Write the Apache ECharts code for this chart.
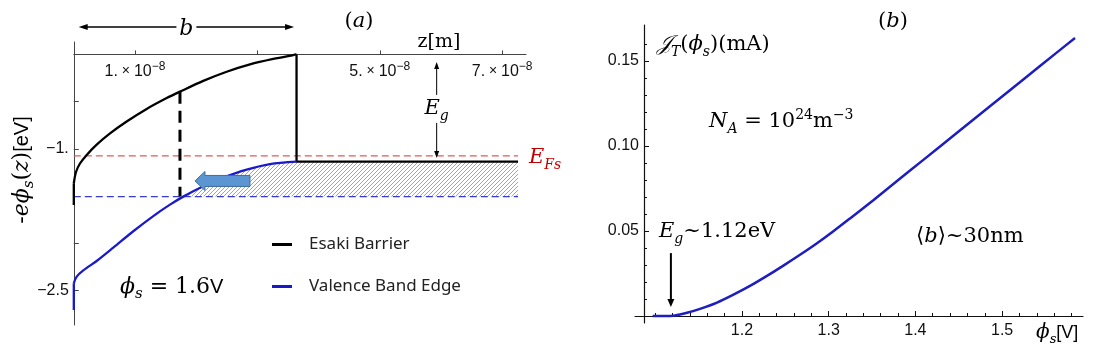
<!DOCTYPE html>
<html>
<head>
<meta charset="utf-8">
<script src="https://cdn.jsdelivr.net/npm/echarts@6/dist/echarts.min.js"></script>
<style>
html, body { margin: 0; padding: 0; background: #fff; }
#chart { width: 1099px; height: 351px; }
</style>
</head>
<body>
<div id="chart"></div>
<script>
// panel (a): z in nm, energies in eV
var zBarrier = [0, 0, 0.36, 1.01, 2.11, 3.74, 5.92, 8.64, 11.91, 15.18, 17.35, 21.16, 24.98, 28.79, 32.6, 35.87, 36.4, 36.4, 72.6];
var eBarrier = [-1.594, -1.364, -1.245, -1.155, -1.064, -0.955, -0.836, -0.710, -0.577, -0.462, -0.394, -0.280, -0.183, -0.105, -0.047, -0.006, 0, -1.136, -1.136];
var zValence = [0, 0, 0.47, 1.55, 3.74, 6.45, 9.72, 12.99, 15.72, 17.89, 21.16, 24.43, 28.25, 32.06, 36.4];
var eValence = [-2.707, -2.424, -2.354, -2.288, -2.188, -2.047, -1.873, -1.712, -1.591, -1.506, -1.396, -1.305, -1.220, -1.161, -1.136];
var zEnd = 72.6;
var fermiLevel = -1.075;
var tunnelLevel = -1.506;
var zDashed = 17.35;
var eDashTop = -0.394;
var zTicks = [10, 30, 50, 70];
var zLabels = [10, 50, 70];
var eTicks = [-0.5, -1, -1.5, -2, -2.5];
var eLabels = [-1, -2.5];

// panel (b): tunnelling current vs surface potential
var phiS = [1.097, 1.110, 1.1227, 1.1366, 1.1516, 1.1712, 1.1896, 1.2092, 1.2288, 1.2473, 1.2669, 1.2865, 1.3050, 1.3246, 1.3511, 1.3788, 1.4088, 1.4480, 1.4860, 1.5241, 1.5633, 1.5841];
var current = [0, 0, 0.0003, 0.0019, 0.0042, 0.0079, 0.0124, 0.0177, 0.0236, 0.0295, 0.0360, 0.0428, 0.0497, 0.0574, 0.0680, 0.0794, 0.0917, 0.1078, 0.1234, 0.1390, 0.1551, 0.1636];
var phiTicks = [1.2, 1.3, 1.4, 1.5];
var phiMinor = [1.1, 1.12, 1.14, 1.16, 1.18, 1.22, 1.24, 1.26, 1.28, 1.32, 1.34, 1.36, 1.38, 1.42, 1.44, 1.46, 1.48, 1.52, 1.54, 1.56, 1.58];
var jTicks = [0.05, 0.10, 0.15];
var jMinor = [0.01, 0.02, 0.03, 0.04, 0.06, 0.07, 0.08, 0.09, 0.11, 0.12, 0.13, 0.14, 0.16];

var serif = '"DejaVu Serif", "Liberation Serif", serif';
var sans = '"Liberation Sans", Arial, sans-serif';

// axis ranges / grid boxes
var zMax = 73.9, eMin = -2.866, eMax = 0.132;
var phiMin = 1.0766, phiMax = 1.5933, jMin = -0.00412, jMax = 0.1712;
var gridA = { left: 73.8, right: 573, top: 42, bottom: 26 };
var gridB = { left: 635, right: 16, top: 25, bottom: 28 };
var hA = 351 - gridA.top - gridA.bottom;
var hB = 351 - gridB.top - gridB.bottom;
var wB = 1099 - gridB.left - gridB.right;
// where the zero lines sit inside each grid (px from top)
var zeroA = hA * eMax / (eMax - eMin);
var zeroB = hB * jMax / (jMax - jMin);
var yLineB = 9; // y axis of panel (b) sits at phi ~ 1.087

function pairs(xs, ys) {
    return xs.map(function (x, i) { return [x, ys[i]]; });
}

// diagonal hatch used under the flat band
var hatch = document.createElement('canvas');
hatch.width = 4;
hatch.height = 4;
var hc = hatch.getContext('2d');
hc.strokeStyle = '#869eb8';
hc.lineWidth = 0.9;
hc.beginPath();
hc.moveTo(0, 4); hc.lineTo(4, 0);
hc.moveTo(-1, 1); hc.lineTo(1, -1);
hc.moveTo(3, 5); hc.lineTo(5, 3);
hc.stroke();

function mathRich(size, color) {
    color = color || '#000';
    var lh = Math.round(size * 1.35);
    var sm = Math.round(size * 0.66);
    return {
        r: { fontFamily: serif, fontSize: size, fill: color, lineHeight: lh },
        i: { fontFamily: serif, fontSize: size, fontStyle: 'italic', fill: color, lineHeight: lh },
        sb: { fontFamily: serif, fontSize: sm, fontStyle: 'italic', fill: color, verticalAlign: 'bottom', lineHeight: sm },
        sp: { fontFamily: serif, fontSize: sm, fill: color, verticalAlign: 'top', lineHeight: sm },
        sn: { fontFamily: sans, fontSize: Math.round(size * 0.9), fill: color, lineHeight: lh }
    };
}

function mathText(x, y, text, size, opts) {
    opts = opts || {};
    return {
        type: 'text', x: x, y: y, z: 100, rotation: opts.rotation || 0,
        style: { text: text, rich: mathRich(size, opts.color), align: opts.align || 'left', verticalAlign: 'middle' }
    };
}

function head(tip, from, len, wid, color) {
    var dx = tip[0] - from[0], dy = tip[1] - from[1];
    var d = Math.sqrt(dx * dx + dy * dy);
    var ux = dx / d, uy = dy / d;
    var bx = tip[0] - ux * len, by = tip[1] - uy * len;
    return {
        type: 'polygon', z: 100,
        shape: { points: [tip, [bx - uy * wid / 2, by + ux * wid / 2], [bx + uy * wid / 2, by - ux * wid / 2]] },
        style: { fill: color }
    };
}

function seg(p1, p2, w, color) {
    return { type: 'line', z: 100, shape: { x1: p1[0], y1: p1[1], x2: p2[0], y2: p2[1] }, style: { stroke: color, lineWidth: w } };
}

var chart = echarts.init(document.getElementById('chart'));

var option = {
    animation: false,
    grid: [gridA, gridB],
    legend: {
        data: ['Esaki Barrier', 'Valence Band Edge'],
        orient: 'vertical', left: 267, top: 231,
        itemWidth: 20, itemHeight: 3, itemGap: 25, icon: 'rect',
        textStyle: { fontFamily: '"Noto Sans", sans-serif', fontSize: 17, color: '#222', padding: [0, 0, 0, 12] }
    },
    xAxis: [
        {
            type: 'value', gridIndex: 0, min: 0, max: zMax, position: 'bottom', offset: -(hA - zeroA),
            axisLine: { show: true, onZero: false, lineStyle: { color: '#444' } },
            axisTick: { show: true, inside: true, length: 4, customValues: zTicks, lineStyle: { color: '#444' } },
            axisLabel: {
                customValues: zLabels, margin: 6,
                formatter: function (v) { return '{n|' + Math.round(v / 10) + '.}{x| × }{n|10}{s|−8}'; },
                rich: {
                    n: { fontFamily: sans, fontSize: 16, color: '#111', lineHeight: 22 },
                    x: { fontFamily: sans, fontSize: 14, color: '#111', lineHeight: 22 },
                    s: { fontFamily: sans, fontSize: 12, color: '#111', verticalAlign: 'top', lineHeight: 12 }
                }
            },
            splitLine: { show: false }
        },
        {
            type: 'value', gridIndex: 1, min: phiMin, max: phiMax, position: 'bottom', offset: -(hB - zeroB),
            axisLine: { show: true, onZero: false, lineStyle: { color: '#111', width: 1.2 } },
            axisTick: { show: true, inside: true, length: 5, customValues: phiTicks, lineStyle: { color: '#111' } },
            axisLabel: {
                customValues: phiTicks, margin: 7, color: '#111', fontFamily: sans, fontSize: 16,
                formatter: function (v) { return v.toFixed(1); }
            },
            splitLine: { show: false }
        },
        {
            // minor ticks: a second axis, moved down onto the zero line
            type: 'value', gridIndex: 1, min: phiMin, max: phiMax, position: 'top', offset: -zeroB,
            axisLine: { show: false, onZero: false },
            axisTick: { show: true, inside: false, length: 3, customValues: phiMinor, lineStyle: { color: '#111' } },
            axisLabel: { show: false },
            splitLine: { show: false }
        }
    ],
    yAxis: [
        {
            type: 'value', gridIndex: 0, min: eMin, max: eMax,
            axisLine: { show: true, onZero: false, lineStyle: { color: '#444' } },
            axisTick: { show: true, inside: true, length: 5, customValues: eTicks, lineStyle: { color: '#444' } },
            axisLabel: {
                customValues: eLabels, margin: 5, color: '#111', fontFamily: sans, fontSize: 16,
                formatter: function (v) {
                    var s = String(v).replace('-', '−');
                    return s.indexOf('.') < 0 ? s + '.' : s;
                }
            },
            splitLine: { show: false }
        },
        {
            type: 'value', gridIndex: 1, min: jMin, max: jMax, position: 'left', offset: -yLineB,
            axisLine: { show: true, onZero: false, lineStyle: { color: '#111', width: 1.2 } },
            axisTick: { show: true, inside: true, length: 5, customValues: jTicks, lineStyle: { color: '#111' } },
            axisLabel: {
                customValues: jTicks, margin: 5, color: '#111', fontFamily: sans, fontSize: 16,
                formatter: function (v) { return v.toFixed(2); }
            },
            splitLine: { show: false }
        },
        {
            type: 'value', gridIndex: 1, min: jMin, max: jMax, position: 'right', offset: -(wB - yLineB),
            axisLine: { show: false, onZero: false },
            axisTick: { show: true, inside: false, length: 3, customValues: jMinor, lineStyle: { color: '#111' } },
            axisLabel: { show: false },
            splitLine: { show: false }
        }
    ],
    series: [
        {
            type: 'custom', xAxisIndex: 0, yAxisIndex: 0, silent: true, z: 1,
            data: [[0, 0]],
            renderItem: function (params, api) {
                var pts = [];
                for (var i = 0; i < zValence.length; i++) {
                    if (eValence[i] >= tunnelLevel) pts.push(api.coord([zValence[i], eValence[i]]));
                }
                pts.push(api.coord([zEnd, eBarrier[eBarrier.length - 1]]));
                pts.push(api.coord([zEnd, tunnelLevel]));
                return { type: 'polygon', shape: { points: pts }, style: { fill: { image: hatch, repeat: 'repeat' } } };
            }
        },
        {
            name: 'Fermi', type: 'line', xAxisIndex: 0, yAxisIndex: 0, symbol: 'none', z: 2,
            data: [[0, fermiLevel], [zEnd, fermiLevel]],
            lineStyle: { color: '#e05a5a', width: 1.2, type: [7, 4] }
        },
        {
            name: 'Tunnel', type: 'line', xAxisIndex: 0, yAxisIndex: 0, symbol: 'none', z: 2,
            data: [[0, tunnelLevel], [zEnd, tunnelLevel]],
            lineStyle: { color: '#3a3ad0', width: 1.2, type: [7, 4] }
        },
        {
            name: 'Width', type: 'line', xAxisIndex: 0, yAxisIndex: 0, symbol: 'none', z: 3,
            data: [[zDashed, eDashTop], [zDashed, tunnelLevel]],
            lineStyle: { color: '#000', width: 3, type: [12, 7] }
        },
        {
            // curved part of the barrier
            name: 'Esaki Barrier', type: 'line', xAxisIndex: 0, yAxisIndex: 0, symbol: 'none', z: 4,
            color: '#000', smooth: 0.3,
            data: pairs(zBarrier, eBarrier).slice(1, 17),
            lineStyle: { color: '#000', width: 2.3 }
        },
        {
            // vertical start and the step down at b
            name: 'Esaki Barrier', type: 'line', xAxisIndex: 0, yAxisIndex: 0, symbol: 'none', z: 4,
            color: '#000',
            data: pairs(zBarrier, eBarrier).slice(0, 2),
            lineStyle: { color: '#000', width: 2.3 }
        },
        {
            name: 'Esaki Barrier', type: 'line', xAxisIndex: 0, yAxisIndex: 0, symbol: 'none', z: 4,
            color: '#000',
            data: pairs(zBarrier, eBarrier).slice(16),
            lineStyle: { color: '#000', width: 2.3 }
        },
        {
            name: 'Valence Band Edge', type: 'line', xAxisIndex: 0, yAxisIndex: 0, symbol: 'none', z: 4,
            color: '#1a1acc', smooth: 0.3,
            data: pairs(zValence, eValence).slice(1),
            lineStyle: { color: '#1a1acc', width: 2.3 }
        },
        {
            name: 'Valence Band Edge', type: 'line', xAxisIndex: 0, yAxisIndex: 0, symbol: 'none', z: 4,
            color: '#1a1acc',
            data: pairs(zValence, eValence).slice(0, 2),
            lineStyle: { color: '#1a1acc', width: 2.3 }
        },
        {
            name: 'Current', type: 'line', xAxisIndex: 1, yAxisIndex: 1, symbol: 'none', z: 4,
            smooth: 0.3,
            data: pairs(phiS, current),
            lineStyle: { color: '#1e1ec0', width: 2.5 }
        }
    ]
};

chart.setOption(option);

function pa(z, e) { return chart.convertToPixel({ xAxisIndex: 0, yAxisIndex: 0 }, [z, e]); }
function pb(p, j) { return chart.convertToPixel({ xAxisIndex: 1, yAxisIndex: 1 }, [p, j]); }

var g = [];

// b arrow above panel (a)
var bL = pa(0.8, 0.29), bR = pa(36.0, 0.29);
var bMid = (bL[0] + bR[0]) / 2;
g.push(seg([bL[0] + 6, bL[1]], [bMid - 10, bL[1]], 1.5, '#000'));
g.push(seg([bMid + 10, bR[1]], [bR[0] - 6, bR[1]], 1.5, '#000'));
g.push(head(bL, bR, 9, 6, '#000'));
g.push(head(bR, bL, 9, 6, '#000'));
g.push(mathText(bMid, bL[1] + 2, '{i|b}', 22, { align: 'center' }));

// E_g double arrow in panel (a)
var eT = pa(59.3, -0.08), eB = pa(59.3, -1.096);
var eMid = (eT[1] + eB[1]) / 2;
g.push(seg([eT[0], eT[1] + 5], [eT[0], eMid - 15], 1, '#000'));
g.push(seg([eB[0], eMid + 13], [eB[0], eB[1] - 5], 1, '#000'));
g.push(head(eT, eB, 7, 5, '#000'));
g.push(head(eB, eT, 7, 5, '#000'));
g.push(mathText(eT[0], eMid - 1, '{i|E}{sb|g}', 21, { align: 'center' }));

// fat blue arrow pointing toward the barrier
var tip = pa(19.8, -1.34);
var tx = tip[0], ty = tip[1];
g.push({
    type: 'polygon', z: 100,
    shape: { points: [[tx, ty], [tx + 10, ty - 9.5], [tx + 10, ty - 5.5], [tx + 55, ty - 5.5], [tx + 55, ty + 5.5], [tx + 10, ty + 5.5], [tx + 10, ty + 9.5]] },
    style: { fill: '#5b95d2', stroke: '#3f6f9f', lineWidth: 1 }
});

// E_g arrow in panel (b)
var aT = pb(1.118, 0.037), aB = pb(1.118, 0.0053);
g.push(seg(aT, [aB[0], aB[1] - 5], 2, '#000'));
g.push(head(aB, aT, 8, 7, '#000'));

// texts
g.push(mathText(359, 22, '{r|(}{i|a}{r|)}', 21, { align: 'center' }));
g.push(mathText(893, 22, '{r|(}{i|b}{r|)}', 21, { align: 'center' }));
g.push(mathText(439, 42, '{r|z[m]}', 19, { align: 'center' }));
g.push(mathText(529, 158, '{i|E}{sb|Fs}', 21, { color: '#c00000' }));
g.push(mathText(120, 287, '{i|ϕ}{sb|s}{r| = 1.6}{sn|V}', 22));
g.push(mathText(22, 170, '{r|-}{i|eϕ}{sb|s}{r|(}{i|z}{r|)}{sn|[eV]}', 22, { align: 'center', rotation: Math.PI / 2 }));
g.push(mathText(657, 45, '{i|𝒥}{sb|T}{r|(}{i|ϕ}{sb|s}{r|)(mA)}', 21));
g.push(mathText(709, 122, '{i|N}{sb|A}{r| = 10}{sp|24}{r|m}{sp|−3}', 21));
g.push(mathText(659, 232, '{i|E}{sb|g}{r|~1.12eV}', 21));
g.push(mathText(916, 237, '{r|⟨}{i|b}{r|⟩~30nm}', 21));
g.push(mathText(1036, 333, '{i|ϕ}{sb|s}{sn|[V]}', 20));

chart.setOption({ graphic: g });
</script>
</body>
</html>
